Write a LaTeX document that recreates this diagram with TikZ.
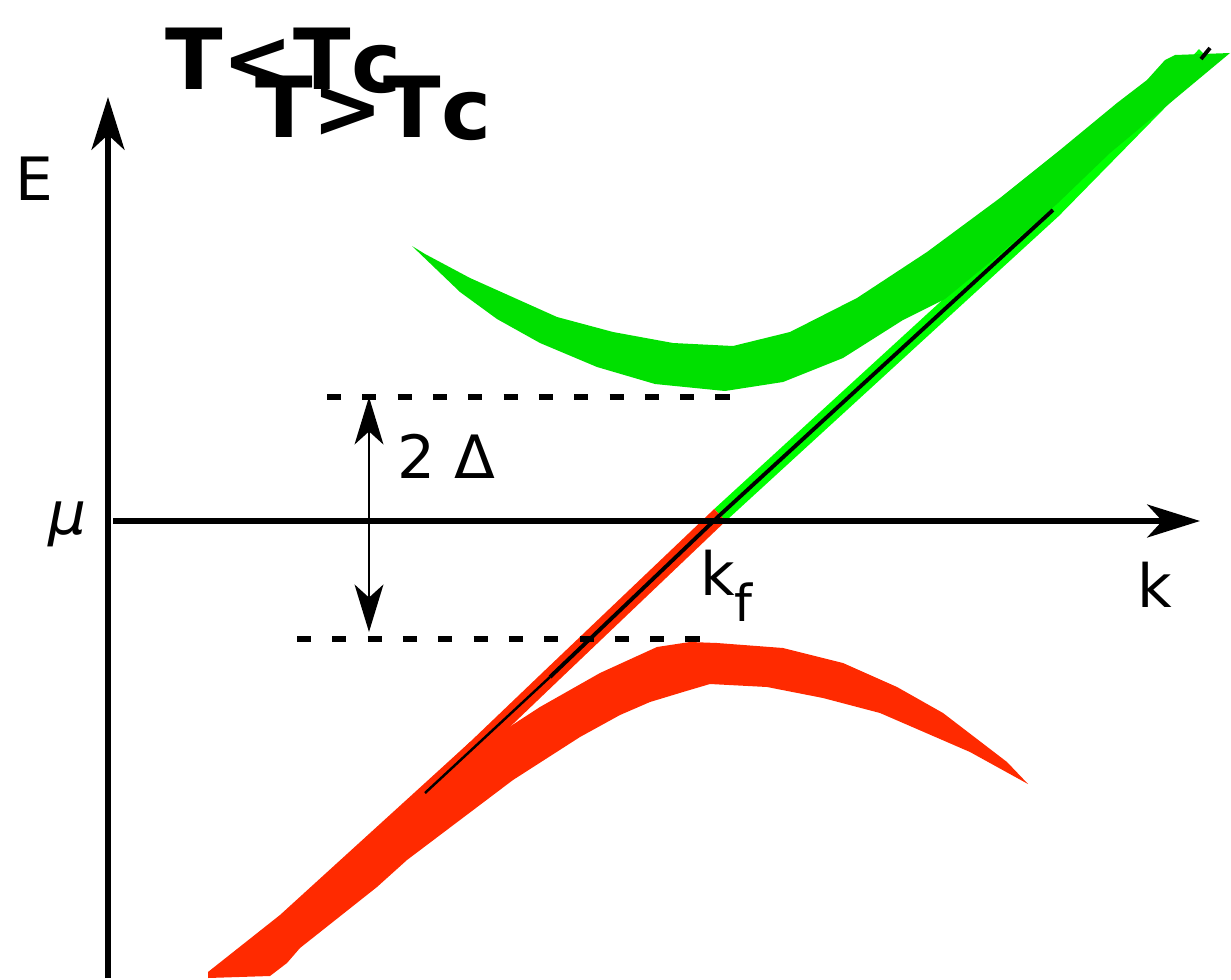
\documentclass[tikz,border=0pt]{standalone}
\usepackage{fontspec}
\setmainfont{DejaVu Sans}
\usepackage{xcolor}
\definecolor{bandGreen}{HTML}{00E000}
\definecolor{lineGreen}{HTML}{00FF00}
\definecolor{bandRed}{HTML}{FF2A00}
\usepackage{tikz}
\usetikzlibrary{
    arrows.meta
}
\tikzset{
    % Axes - thick lines with large stealth tips
    axis/.style={
        line width=3.4pt,
        -{Stealth[length=30pt, width=18.7pt, inset=8.5pt]},
    },
    % Arrow spanning the gap
    gap arrow/.style={
        line width=1.4pt,
        {Stealth[length=27pt, width=16.4pt, inset=7.4pt]}-{Stealth[length=27pt, width=16.4pt, inset=7.4pt]},
    },
    % Dashed energy levels
    level/.style={
        line width=3.3pt,
        dash pattern=on 8pt off 12.1pt,
    },
    % Bare branch of the dispersion
    branch/.style={
        line width=9.5pt,
        line cap=butt,
    },
    % Thin black dispersion line
    bare line/.style={
        line width=2.2pt,
        draw=black,
    },
    % Axis and gap labels
    axis text/.style={
        font=\fontsize{34}{40}\selectfont,
        inner sep=0pt,
    },
    % Temperature captions
    temp text/.style={
        font=\bfseries\fontsize{48}{56}\selectfont,
        inner sep=0pt,
        anchor=base west,
    },
}

\begin{document}
\begin{tikzpicture}[x=0.02cm, y=-0.02cm]
    \useasboundingbox (0,0) rectangle (1231,980);

    % branches along the bare dispersion
    \draw [branch, lineGreen] (720,515) -- (1053,210) -- (1205,55);
    \draw [branch, bandRed] (720,515) -- (550,677) -- (435,787);

    % lower band
    \fill [bandRed] (208,972) -- (280,915) -- (470,742) -- (500,733) -- (540,707) -- (600,673)
        -- (657,647) -- (690,642) -- (717,643) -- (783,648) -- (843,663) -- (897,687)
        -- (943,713) -- (1007,762) -- (1028,784) -- (970,752) -- (880,713) -- (823,698)
        -- (767,687) -- (710,684) -- (683,692) -- (650,702) -- (620,715) -- (580,737)
        -- (513,780) -- (407,860) -- (377,887) -- (300,948) -- (287,963) -- (270,976)
        -- (208,978) -- cycle;

    % upper band
    \fill [bandGreen] (412,246) -- (425,254) -- (470,278) -- (557,317) -- (613,332)
        -- (673,343) -- (733,346) -- (790,332) -- (857,298) -- (927,252) -- (1000,198)
        -- (1060,150) -- (1117,103) -- (1147,80) -- (1165,60) -- (1175,55) -- (1230,53)
        -- (1170,103) -- (1110,153) -- (1058,203) -- (1000,254) -- (945,299) -- (903,320)
        -- (843,358) -- (783,382) -- (725,391) -- (655,384) -- (597,367) -- (540,343)
        -- (497,319) -- (460,292) -- cycle;

    % bare dispersion
    \draw [bare line, line width=1.4pt] (425,793) -- (550,677);
    \draw [bare line] (550,677) -- (720,515) -- (1053,210);
    \draw [bare line] (1201,59) -- (1210,48);

    % gap levels
    \draw [level] (327,397) -- (735,397);
    \draw [level] (297,639) -- (702,639);

    % axes
    \coordinate (ebottom) at (108,978);
    \coordinate (etop) at (108,97);
    \coordinate (kleft) at (113,521);
    \coordinate (kright) at (1200,521);
    \draw [axis] (ebottom) -- (etop);
    \draw [axis] (kleft) -- (kright);

    % gap
    \coordinate (gaptop) at (369,397);
    \coordinate (gapbottom) at (369,632);
    \draw [gap arrow] (gapbottom) -- (gaptop);

    % labels
    \node (elabel) [axis text] at (34,179) {E};
    \node (mulabel) [axis text] at (68,524) {\itshape μ};
    \node (klabel) [axis text] at (1155,585) {k};
    \node (kflabel) [axis text, anchor=base west] at (700,595) {k\raisebox{-15pt}{\fontsize{29}{32}\selectfont f}};
    \node (gaplabel) [axis text] at (446,456) {2 Δ};

    \node (tbelow) [temp text] at (165,90) {T<T\raisebox{-1.5pt}{c}};
    \node (tabove) [temp text] at (255,137) {T>T\raisebox{-1.5pt}{c}};
\end{tikzpicture}
\end{document}
